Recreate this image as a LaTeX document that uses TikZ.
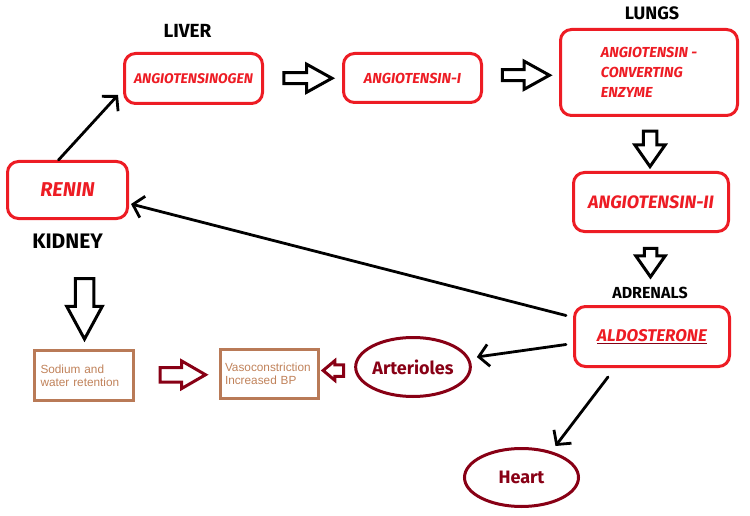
\documentclass[tikz,border=0pt]{standalone}
\usepackage{fontspec}
\setsansfont{Fira Sans}
\newfontfamily\arialfont{Liberation Sans}
\usetikzlibrary{shapes,arrows,arrows.meta,positioning,calc}
\definecolor{paintred}{RGB}{237,28,36}
\definecolor{maroon}{RGB}{136,0,21}
\definecolor{tan}{RGB}{185,122,87}
\definecolor{tantext}{RGB}{192,130,90}
\tikzset{every picture/.style={/utils/exec={\sffamily}}}

\begin{document}
\begin{tikzpicture}[x=1pt, y=-1pt, >={Straight Barb[length=10pt,width=22pt]},
   enzyme/.style={draw=paintred, line width=3pt, rounded corners=11pt, text=paintred, inner sep=0pt},
   organ/.style={font=\bfseries},
   effect/.style={draw=tan, line width=3pt, text=tantext, align=left, inner ysep=0pt,
      font=\arialfont\fontsize{11.8}{13}\selectfont},
   target/.style={draw=maroon, line width=3pt, ellipse, text=maroon, inner sep=0pt,
      font=\bfseries\fontsize{18}{20}\selectfont},
   flow/.style={single arrow, draw=black, line width=3pt, minimum width=0pt},
   link/.style={->, line width=2.8pt, line cap=round}]

   \useasboundingbox (0,0) rectangle (750,516);

    % Place nodes
    \node [enzyme, minimum width=138, minimum height=50, font=\bfseries\itshape\fontsize{14}{16}\selectfont] (agen) at (193.5,78.5) {ANGIOTENSINOGEN};
    \node [enzyme, minimum width=138, minimum height=49, font=\bfseries\itshape\fontsize{14.5}{16}\selectfont] (ang1) at (412.5,78) {ANGIOTENSIN-I};
    \node [enzyme, minimum width=177, minimum height=86, align=left, font=\bfseries\itshape\fontsize{14.5}{20}\selectfont] (ace) at (649,72.5) {ANGIOTENSIN -\\CONVERTING\\ENZYME};
    \node [enzyme, minimum width=155, minimum height=59, font=\bfseries\itshape\fontsize{18}{20}\selectfont] (ang2) at (651,202) {ANGIOTENSIN-II};
    \node [enzyme, minimum width=155, minimum height=60, font=\bfseries\itshape\fontsize{17}{20}\selectfont] (aldo) at (652,336.5) {\textcolor{maroon}{\underline{\textcolor{paintred}{ALDOSTERONE}}}};
    \node [enzyme, minimum width=120, minimum height=57, font=\bfseries\itshape\fontsize{20}{22}\selectfont] (renin) at (67.5,190) {RENIN\hspace{14pt}};

    \node [organ, above=11pt of agen, xshift=-6pt, font=\bfseries\fontsize{19}{20}\selectfont] (liver) {LIVER};
    \node [organ, above=5pt of ace, xshift=3pt, font=\bfseries\fontsize{18}{20}\selectfont] (lungs) {LUNGS};
    \node [organ, above=3pt of aldo, xshift=-2pt, font=\bfseries\fontsize{16}{18}\selectfont] (adrenals) {ADRENALS};
    \node [organ, below=10pt of renin, font=\bfseries\fontsize{21}{22}\selectfont] (kidney) {KIDNEY};

    \node [effect, text width=86, inner xsep=6.5pt, minimum height=50] (sodium) at (83.5,375.5) {Sodium and\\water retention};
    \node [effect, text width=88, inner xsep=5pt, minimum height=49] (vaso) at (269,374) {Vasoconstriction\\Increased BP};

    \node [target, minimum width=113, minimum height=59] (arter) at (413,367) {Arterioles};
    \node [target, minimum width=114, minimum height=58] (heart) at (521.5,477.5) {Heart};

    % Block arrows
    \node [flow, minimum height=48, inner sep=4pt, single arrow head extend=8.5pt, single arrow tip angle=58] (f1) at ($(agen.east)!0.5!(ang1.west)$) {};
    \node [flow, minimum height=47, inner sep=4pt, single arrow head extend=8.5pt, single arrow tip angle=58] (f2) at ($(ang1.east)!0.5!(ace.west)$) {};
    \node [flow, minimum height=35.5, inner sep=5.25pt, single arrow head extend=8.5pt, single arrow tip angle=70, shape border rotate=270] (f3) at ($(ace.south)!0.5!(ang2.north)$) {};
    \node [flow, minimum height=28.5, inner sep=4.75pt, single arrow head extend=8.5pt, single arrow tip angle=70, shape border rotate=270] (f4) at ($(ang2.south)!0.5!(adrenals.north)$) {};
    \node [flow, minimum height=60.5, inner sep=7.75pt, single arrow head extend=8.5pt, single arrow tip angle=57, shape border rotate=270] (f5) at ($(kidney.south)!0.5!(sodium.north)+(9,0)$) {};
    \node [flow, draw=maroon, minimum height=45.5, inner sep=5.75pt, single arrow head extend=6.5pt, single arrow tip angle=60] (f6) at ($(sodium.east)!0.5!(vaso.west)$) {};
    \node [flow, draw=maroon, minimum height=20.5, inner sep=4.25pt, single arrow head extend=4pt, single arrow tip angle=80, shape border rotate=180] (f7) at ($(vaso.east)!0.5!(arter.west)$) {};

    % Draw edges
    \draw [link] ([xshift=-9pt]renin.north) -- ([xshift=-5pt,yshift=10pt]agen.south west);
    \draw [link] ([xshift=-7pt,yshift=21pt]aldo.west) -- ([xshift=2pt,yshift=-14pt]renin.east);
    \draw [link] ([xshift=-7pt,yshift=-8pt]aldo.west) -- ([xshift=5pt,yshift=10pt]arter.east);
    \draw [link] ([xshift=-44pt,yshift=-9pt]aldo.south) -- ([xshift=34pt,yshift=1pt]heart.north);
\end{tikzpicture}
\end{document}
